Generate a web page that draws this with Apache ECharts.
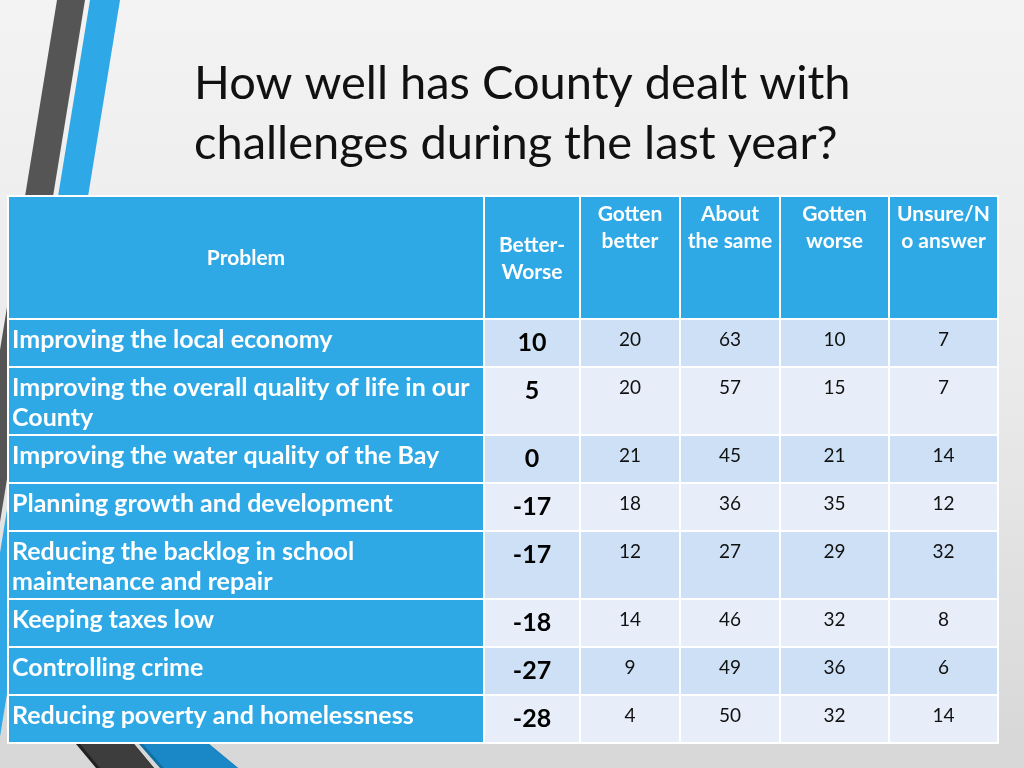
<!DOCTYPE html>
<html><head><meta charset="utf-8">
<script src="https://cdn.jsdelivr.net/npm/echarts@6/dist/echarts.min.js"></script>
<style>html,body{margin:0;padding:0;}#c{width:1024px;height:768px;}</style>
</head><body><div id="c"></div>
<script>
// ---- data ----
const titleText = 'How well has County dealt with\nchallenges during the last year?';
const headers = ['Problem', 'Better-\nWorse', 'Gotten\nbetter', 'About\nthe same', 'Gotten\nworse', 'Unsure/N\no answer'];
const problems = [
  'Improving the local economy',
  'Improving the overall quality of life in our\nCounty',
  'Improving the water quality of the Bay',
  'Planning growth and development',
  'Reducing the backlog in school\nmaintenance and repair',
  'Keeping taxes low',
  'Controlling crime',
  'Reducing poverty and homelessness'
];
const betterWorse = [10, 5, 0, -17, -17, -18, -27, -28];
const gottenBetter = [20, 20, 21, 18, 12, 14, 9, 4];
const aboutSame = [63, 57, 45, 36, 27, 46, 49, 50];
const gottenWorse = [10, 15, 21, 35, 29, 32, 36, 32];
const unsure = [7, 7, 14, 12, 32, 8, 6, 14];

// ---- layout ----
const colEdges = [8, 484, 580, 680, 780, 889, 998];
const rowEdges = [196, 319, 367, 435, 483, 531, 599, 647, 695, 743];
const BLUE = '#2fa9e6';
const DARKROW = '#cde0f5';
const LIGHTROW = '#e7eef9';
const FONT = 'Lato, "Open Sans", sans-serif';

const valueCols = [betterWorse, gottenBetter, aboutSame, gottenWorse, unsure];

const headerData = headers.map((h, c) => [c, 0]);
const cellData = [];
problems.forEach((p, r) => {
  cellData.push([0, r + 1]);
  valueCols.forEach((arr, k) => cellData.push([k + 1, r + 1]));
});

function cellRect(api, c, r) {
  const p0 = api.coord([colEdges[c], rowEdges[r]]);
  const p1 = api.coord([colEdges[c + 1], rowEdges[r + 1]]);
  return { x: p0[0] + 1, y: p0[1] + 1, width: p1[0] - p0[0] - 2, height: p1[1] - p0[1] - 2 };
}

function renderHeader(params, api) {
  const c = api.value(0);
  const rc = cellRect(api, c, 0);
  let ty, tv = 'top';
  if (c <= 1) { ty = rc.y + rc.height / 2 + 1; tv = 'middle'; }
  else { ty = rc.y + 4; }
  return {
    type: 'group',
    children: [
      { type: 'rect', shape: rc, style: { fill: BLUE } },
      { type: 'text', style: {
          text: headers[c], x: rc.x + rc.width / 2, y: ty, align: 'center', verticalAlign: tv,
          fill: '#ffffff', font: 'bold 21px ' + FONT, lineHeight: 27
        } }
    ]
  };
}

function renderCell(params, api) {
  const c = api.value(0), r = api.value(1);
  const rc = cellRect(api, c, r);
  const idx = r - 1;
  const children = [];
  if (c === 0) {
    children.push({ type: 'rect', shape: rc, style: { fill: BLUE } });
    children.push({ type: 'text', style: {
      text: problems[idx], x: rc.x + 3, y: rc.y + 5, align: 'left', verticalAlign: 'top',
      fill: '#ffffff', font: 'bold 25px ' + FONT, lineHeight: 30
    } });
  } else {
    const fill = (idx % 2 === 0) ? DARKROW : LIGHTROW;
    children.push({ type: 'rect', shape: rc, style: { fill: fill } });
    const v = valueCols[c - 1][idx];
    if (c === 1) {
      children.push({ type: 'text', style: {
        text: String(v), x: rc.x + rc.width / 2, y: rc.y + 23, align: 'center', verticalAlign: 'middle',
        fill: '#000000', font: 'bold 25px ' + FONT
      } });
    } else {
      children.push({ type: 'text', style: {
        text: String(v), x: rc.x + rc.width / 2, y: rc.y + 20, align: 'center', verticalAlign: 'middle',
        fill: '#111111', font: '19px ' + FONT
      } });
    }
  }
  return { type: 'group', children: children };
}

const chart = echarts.init(document.getElementById('c'), null, { renderer: 'canvas' });
chart.setOption({
  animation: false,
  backgroundColor: '#e6e6e6',
  title: {
    text: titleText, left: 189, top: 49,
    textStyle: { fontFamily: FONT, fontWeight: 400, fontSize: 47, color: '#111111', lineHeight: 60 }
  },
  graphic: [
    { type: 'rect', z: -10, shape: { x: 0, y: 0, width: 1024, height: 768 },
      style: { fill: { type: 'linear', x: 0, y: 0, x2: 0, y2: 1, colorStops: [
        { offset: 0, color: '#f3f3f3' }, { offset: 0.5, color: '#eaeaea' }, { offset: 1, color: '#d7d7d7' } ] } } },
    { type: 'polygon', z: -5, shape: { points: [[57, 0], [85, 0], [-36, 743], [-64, 743]] }, style: { fill: '#555555' } },
    { type: 'polygon', z: -5, shape: { points: [[90, 0], [120, 0], [-1, 743], [-31, 743]] }, style: { fill: '#2ea8e6' } },
    { type: 'polygon', z: -5, shape: { points: [[76, 744], [134, 744], [154, 768], [96, 768]] }, style: { fill: '#222222' } },
    { type: 'polygon', z: -5, shape: { points: [[80, 744], [134, 744], [154, 768], [100, 768]] }, style: { fill: '#3d3d3d' } },
    { type: 'polygon', z: -5, shape: { points: [[139, 744], [209, 744], [238, 768], [160, 768]] }, style: { fill: '#0f6fa3' } },
    { type: 'polygon', z: -5, shape: { points: [[143, 744], [209, 744], [238, 768], [164, 768]] }, style: { fill: '#1a88c6' } },
    { type: 'rect', z: -4, shape: { x: 7, y: 195, width: 992, height: 549 }, style: { fill: '#ffffff' } }
  ],
  grid: { left: 0, right: 0, top: 0, bottom: 0 },
  xAxis: { type: 'value', min: 0, max: 1024, show: false },
  yAxis: { type: 'value', min: 0, max: 768, inverse: true, show: false },
  series: [
    { type: 'custom', z: 5, renderItem: renderHeader, data: headerData, silent: true },
    { type: 'custom', z: 5, renderItem: renderCell, data: cellData, silent: true }
  ]
});
</script>
</body></html>
